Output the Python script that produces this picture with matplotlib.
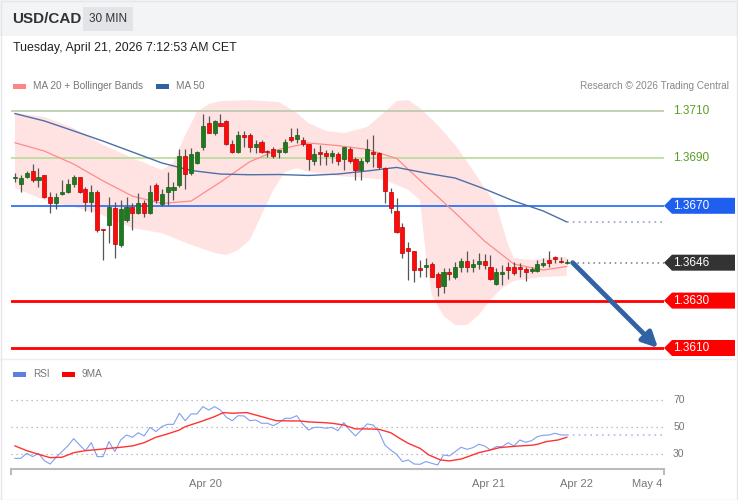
import numpy as np
import matplotlib.pyplot as plt
from matplotlib.patches import Rectangle, Polygon
from matplotlib.transforms import blended_transform_factory

plt.rcParams['font.family'] = ['Liberation Sans', 'DejaVu Sans']

# USD/CAD 30 min candles
opens = [1.36819, 1.36791, 1.36820, 1.36848, 1.36809, 1.36830, 1.36738, 1.36710, 1.36748, 1.36759,
         1.36791, 1.36820, 1.36770, 1.36717, 1.36759, 1.36600, 1.36619, 1.36689, 1.36535, 1.36640,
         1.36696, 1.36668, 1.36710, 1.36668, 1.36788, 1.36708, 1.36759, 1.36767, 1.36788, 1.36910,
         1.36840, 1.36879, 1.36949, 1.37048, 1.37008, 1.37048, 1.37059, 1.36959, 1.36928, 1.36999,
         1.36999, 1.36949, 1.36968, 1.36929, 1.36938, 1.36929, 1.36928, 1.36989, 1.36980, 1.36978,
         1.36961, 1.36889, 1.36928, 1.36922, 1.36910, 1.36917, 1.36896, 1.36938, 1.36896, 1.36851,
         1.36889, 1.36928, 1.36922, 1.36858, 1.36759, 1.36679, 1.36609, 1.36521, 1.36510, 1.36433,
         1.36440, 1.36454, 1.36411, 1.36362, 1.36422, 1.36401, 1.36440, 1.36468, 1.36440, 1.36454,
         1.36468, 1.36440, 1.36370, 1.36412, 1.36440, 1.36440, 1.36440, 1.36432, 1.36426, 1.36426,
         1.36450, 1.36471, 1.36483, 1.36465, 1.36459]
highs = [1.36838, 1.36830, 1.36848, 1.36876, 1.36859, 1.36832, 1.36759, 1.36754, 1.36809, 1.36813,
         1.36830, 1.36823, 1.36778, 1.36788, 1.36767, 1.36601, 1.36738, 1.36717, 1.36724, 1.36738,
         1.36710, 1.36755, 1.36724, 1.36788, 1.36796, 1.36770, 1.36844, 1.36802, 1.36938, 1.36938,
         1.36944, 1.36930, 1.37087, 1.37079, 1.37062, 1.37087, 1.37060, 1.36978, 1.37017, 1.37017,
         1.37008, 1.36978, 1.36978, 1.36935, 1.36947, 1.36935, 1.36981, 1.37027, 1.37027, 1.36992,
         1.36962, 1.36943, 1.36957, 1.36935, 1.36935, 1.36928, 1.36949, 1.36949, 1.36907, 1.36900,
         1.36981, 1.36999, 1.36928, 1.36865, 1.36774, 1.36732, 1.36629, 1.36548, 1.36511, 1.36471,
         1.36478, 1.36464, 1.36422, 1.36436, 1.36436, 1.36464, 1.36478, 1.36510, 1.36474, 1.36502,
         1.36497, 1.36492, 1.36436, 1.36450, 1.36464, 1.36464, 1.36460, 1.36440, 1.36440, 1.36471,
         1.36478, 1.36510, 1.36488, 1.36483, 1.36474]
lows = [1.36800, 1.36759, 1.36817, 1.36802, 1.36781, 1.36733, 1.36671, 1.36686, 1.36746, 1.36755,
        1.36778, 1.36753, 1.36679, 1.36675, 1.36591, 1.36471, 1.36542, 1.36478, 1.36527, 1.36633,
        1.36598, 1.36665, 1.36654, 1.36665, 1.36712, 1.36699, 1.36703, 1.36724, 1.36778, 1.36770,
        1.36830, 1.36876, 1.36935, 1.37006, 1.36999, 1.37037, 1.36957, 1.36922, 1.36924, 1.36949,
        1.36928, 1.36922, 1.36923, 1.36905, 1.36900, 1.36902, 1.36922, 1.36970, 1.36966, 1.36952,
        1.36851, 1.36872, 1.36872, 1.36872, 1.36879, 1.36872, 1.36851, 1.36879, 1.36809, 1.36809,
        1.36882, 1.36865, 1.36854, 1.36710, 1.36668, 1.36586, 1.36478, 1.36387, 1.36380, 1.36401,
        1.36398, 1.36398, 1.36319, 1.36331, 1.36387, 1.36390, 1.36422, 1.36422, 1.36422, 1.36432,
        1.36432, 1.36387, 1.36366, 1.36366, 1.36390, 1.36408, 1.36401, 1.36384, 1.36415, 1.36422,
        1.36440, 1.36440, 1.36457, 1.36457, 1.36456]
closes = [1.36821, 1.36819, 1.36840, 1.36809, 1.36821, 1.36738, 1.36710, 1.36738, 1.36759, 1.36791,
          1.36820, 1.36759, 1.36717, 1.36759, 1.36598, 1.36598, 1.36696, 1.36539, 1.36685, 1.36696,
          1.36668, 1.36710, 1.36668, 1.36759, 1.36724, 1.36750, 1.36778, 1.36781, 1.36910, 1.36834,
          1.36919, 1.36928, 1.37037, 1.37008, 1.37059, 1.37038, 1.36959, 1.36928, 1.36999, 1.36989,
          1.36949, 1.36959, 1.36928, 1.36927, 1.36910, 1.36930, 1.36970, 1.36978, 1.36999, 1.36961,
          1.36896, 1.36919, 1.36919, 1.36910, 1.36922, 1.36889, 1.36947, 1.36889, 1.36851, 1.36889,
          1.36938, 1.36919, 1.36865, 1.36762, 1.36689, 1.36591, 1.36502, 1.36509, 1.36429, 1.36431,
          1.36450, 1.36401, 1.36359, 1.36422, 1.36411, 1.36440, 1.36468, 1.36440, 1.36454, 1.36468,
          1.36450, 1.36390, 1.36422, 1.36422, 1.36429, 1.36415, 1.36432, 1.36422, 1.36432, 1.36454,
          1.36460, 1.36460, 1.36474, 1.36463, 1.36460]

# moving averages, sampled every few candles
ind_idx = [0, 5, 10, 15, 20, 25, 30, 35, 40, 45, 50, 55, 60, 65, 70, 75, 80, 85, 90, 94]
ma20 = [1.36966, 1.36931, 1.36876, 1.36805, 1.36741, 1.36710, 1.36720, 1.36800, 1.36886, 1.36938,
        1.36965, 1.36954, 1.36938, 1.36900, 1.36784, 1.36670, 1.36551, 1.36454, 1.36429, 1.36444]
ma50 = [1.37089, 1.37058, 1.37016, 1.36973, 1.36927, 1.36881, 1.36849, 1.36834, 1.36831, 1.36832,
        1.36828, 1.36834, 1.36847, 1.36862, 1.36838, 1.36817, 1.36771, 1.36720, 1.36678, 1.36632]

# bollinger bands
bb_up_idx = [0, 5, 10, 15, 20, 25, 27, 29, 31, 33, 35, 40, 45, 48, 50, 53, 56, 58, 60, 63, 65, 67,
             69, 72, 75, 78, 80, 82, 84, 85, 88, 91, 94]
bb_upper = [1.37092, 1.37075, 1.37028, 1.36957, 1.36902, 1.36851, 1.36881, 1.36999, 1.37096, 1.37130,
            1.37142, 1.37146, 1.37138, 1.37092, 1.37049, 1.37016, 1.37007, 1.37020, 1.37032, 1.37096,
            1.37142, 1.37146, 1.37113, 1.37041, 1.36957, 1.36851, 1.36775, 1.36703, 1.36535, 1.36480,
            1.36471, 1.36480, 1.36484]
bb_lo_idx = [0, 5, 10, 14, 20, 25, 30, 34, 36, 38, 40, 42, 44, 46, 48, 50, 55, 60, 63, 65, 67, 69,
             70, 71, 73, 75, 77, 79, 81, 83, 85, 90, 94]
bb_lower = [1.36775, 1.36724, 1.36695, 1.36670, 1.36606, 1.36585, 1.36535, 1.36501, 1.36492, 1.36513,
            1.36556, 1.36661, 1.36767, 1.36843, 1.36859, 1.36843, 1.36826, 1.36817, 1.36809, 1.36788,
            1.36767, 1.36724, 1.36492, 1.36324, 1.36235, 1.36197, 1.36197, 1.36239, 1.36303, 1.36353,
            1.36383, 1.36400, 1.36404]

rsi = [27.0, 27.0, 30.7, 28.3, 30.7, 25.3, 22.8, 27.8, 32.0, 36.2,
       41.6, 36.9, 32.7, 38.6, 28.3, 28.3, 39.4, 32.0, 40.6, 44.3,
       42.6, 46.0, 43.6, 50.0, 46.8, 50.5, 52.2, 52.2, 60.4, 54.9,
       59.9, 59.9, 65.3, 62.8, 65.3, 62.8, 57.4, 54.9, 58.6, 58.4,
       54.9, 55.4, 53.0, 53.0, 51.2, 53.5, 56.7, 56.7, 58.6, 52.5,
       48.0, 50.0, 50.0, 49.3, 50.0, 47.5, 53.5, 48.0, 43.6, 48.0,
       52.5, 51.7, 46.8, 36.9, 33.2, 30.0, 24.6, 25.8, 22.8, 22.6,
       24.6, 23.3, 22.1, 29.5, 28.8, 32.0, 35.2, 33.7, 34.9, 37.4,
       36.2, 33.2, 35.7, 35.7, 38.6, 36.2, 40.6, 38.9, 40.1, 43.1,
       44.1, 44.3, 45.6, 44.3, 44.3]
ma9_idx = [0, 2, 4, 6, 8, 10, 12, 14.5, 16, 18, 20, 22, 24, 26, 28, 29, 31.5, 34, 35.5, 37, 39.5, 41,
           43, 44.5, 47, 48.5, 50, 52.5, 54, 56, 58, 60, 62, 64, 65.5, 67, 69, 70.5, 72.5, 74, 76,
           77.5, 79, 81, 82.5, 84.5, 86, 88, 89, 90.5, 92.5, 94]
ma9 = [36.2, 32.7, 30.0, 27.5, 27.8, 31.2, 32.7, 33.7, 34.4, 35.2, 36.2, 38.6, 42.6, 45.1, 48.0,
       50.5, 54.0, 57.9, 60.9, 60.4, 60.9, 59.1, 56.7, 54.9, 54.7, 54.7, 54.0, 53.5, 53.0, 51.7,
       48.8, 48.8, 48.5, 46.0, 41.9, 38.1, 34.4, 29.5, 25.8, 25.1, 26.5, 28.8, 31.2, 33.2, 34.9,
       35.7, 36.2, 36.7, 37.4, 39.4, 40.6, 42.6]

levels_green = [1.3710, 1.3690]
level_blue = 1.3670
levels_red = [1.3630, 1.3610]
target = 1.3610

tick_pos = [32.4, 80.6, 95.7, 107.7]
tick_labels = ['Apr 20', 'Apr 21', 'Apr 22', 'May 4']

W, H = 738, 500
fig = plt.figure(figsize=(W / 100, H / 100), dpi=100)
fig.patch.set_facecolor('white')


def fbox(left, top, right, bottom):
    return [left / W, 1 - bottom / H, (right - left) / W, (bottom - top) / H]


# header
fig.add_artist(Rectangle((0, 1 - 36 / H), 1, 36 / H, transform=fig.transFigure,
                         facecolor='#f3f4f6', edgecolor='none'))
fig.add_artist(Rectangle((83 / W, 1 - 31 / H), 50 / W, 24 / H, transform=fig.transFigure,
                         facecolor='#e2e4e7', edgecolor='none'))
fig.text(12 / W, 1 - 19 / H, 'USD/CAD', fontsize=11, fontweight='bold', color='#333333', va='center')
fig.text(108 / W, 1 - 19 / H, '30 MIN', fontsize=8.5, color='#333333', va='center', ha='center')
fig.text(13 / W, 1 - 48 / H, 'Tuesday, April 21, 2026 7:12:53 AM CET', fontsize=8.9,
         color='#222222', va='center')
fig.add_artist(Rectangle((0.5 / W, 0.5 / H), 1 - 1.5 / W, 1 - 1.5 / H, transform=fig.transFigure,
                         facecolor='none', edgecolor='#e4e6e9', lw=1))


def legend_item(x, y, color, label):
    fig.add_artist(Rectangle((x / W, 1 - (y + 2.5) / H), 13 / W, 5 / H, transform=fig.transFigure,
                             facecolor=color, edgecolor='none'))
    fig.text((x + 20) / W, 1 - y / H, label, fontsize=7.2, color='#777777', va='center')


legend_item(13, 86, '#ff8585', 'MA 20 + Bollinger Bands')
legend_item(156, 86, '#30609e', 'MA 50')
fig.text(729 / W, 1 - 86 / H, 'Research \u00a9 2026 Trading Central', fontsize=7.2,
         color='#888888', va='center', ha='right')
legend_item(13, 374, '#5b80e0', 'RSI')
legend_item(62, 374, '#ff0000', '9MA')

# main price panel
ax = fig.add_axes(fbox(11, 95, 664, 358))
ax.set_xlim((11 - 15) / 5.87, (664 - 15) / 5.87)
ax.set_ylim(1.3710 - 247 / 23700, 1.3710 + 16 / 23700)
ax.axis('off')

ax.fill(bb_up_idx + bb_lo_idx[::-1], bb_upper + bb_lower[::-1], color='#ffe3e3', lw=0, zorder=1)
ax.plot(ind_idx, ma20, color='#ff8a8a', lw=0.9, zorder=2)
ax.plot(ind_idx, ma50, color='#4c6fa8', lw=1.0, zorder=2)
ax.plot([ind_idx[-1], ax.get_xlim()[1]], [ma50[-1], ma50[-1]], color='#8fa3c8', lw=1.2,
        ls=(0, (1, 2.5)), zorder=2)

ax.axhline(levels_green[0], color='#b8c9aa', lw=1.2, zorder=1.5)
ax.axhline(levels_green[1], color='#b9da98', lw=1.2, zorder=1.5)
ax.axhline(level_blue, color='#3f7cf5', lw=1.4, zorder=1.5)
for lv in levels_red:
    ax.axhline(lv, color='#ff0000', lw=2, zorder=1.5)

idx = np.arange(len(closes))
o = np.array(opens)
c = np.array(closes)
up = c >= o
ax.vlines(idx, lows, highs, color='#555555', lw=0.9, zorder=3)
body_lo = np.minimum(o, c)
body_h = np.maximum(np.abs(c - o), 0.000045)
ax.bar(idx[up], body_h[up], bottom=body_lo[up], width=0.7, color='#1f7a1f',
       edgecolor='#175c17', lw=0.5, zorder=4)
ax.bar(idx[~up], body_h[~up], bottom=body_lo[~up], width=0.7, color='#ff0a0a',
       edgecolor='#c00000', lw=0.5, zorder=4)

ax.plot([idx[-1] + 0.9, ax.get_xlim()[1]], [closes[-1], closes[-1]], color='#777777', lw=1.1,
        ls=(0, (1, 2.5)), zorder=2)

ax.annotate('', xy=((658 - 15) / 5.87, target), xytext=(idx[-1] + 1, closes[-1]),
            arrowprops=dict(arrowstyle='-|>,head_length=0.9,head_width=0.45', color='#3162a4',
                            lw=3.5, shrinkA=0, shrinkB=0), zorder=6)

# right side price tags
trans = blended_transform_factory(fig.transFigure, ax.transData)


def price_tag(price, face, label):
    h = 8 / 23700
    x0, x1, x2 = 664 / W, 672 / W, 735 / W
    fig.add_artist(Polygon([(x0, price), (x1, price + h), (x2, price + h), (x2, price - h),
                            (x1, price - h)], closed=True, transform=trans, facecolor=face,
                           edgecolor='none'))
    fig.text(673 / W, price, label, transform=trans, color='white', fontsize=8.5, va='center')


for lv in levels_green:
    fig.text(673 / W, lv, f'{lv:.4f}', transform=trans, color='#5a9e22', fontsize=8.5, va='center')
price_tag(level_blue, '#1f5ff0', f'{level_blue:.4f}')
price_tag(closes[-1], '#333333', f'{closes[-1]:.4f}')
for lv in levels_red:
    price_tag(lv, '#ff0000', f'{lv:.4f}')

fig.add_artist(plt.Line2D([0, 1], [1 - 359 / H, 1 - 359 / H], transform=fig.transFigure,
                          color='#eeeeee', lw=1))

# RSI panel
ax2 = fig.add_axes(fbox(11, 365, 664, 469))
ax2.set_xlim(ax.get_xlim())
ax2.set_ylim(50 - 41.7 / 1.35, 50 + 62.3 / 1.35)
for s in ['top', 'right', 'left']:
    ax2.spines[s].set_visible(False)
ax2.spines['bottom'].set_color('#bbbbbb')
ax2.spines['bottom'].set_linewidth(1.5)
for lv in [70, 50, 30]:
    ax2.axhline(lv, color='#aaaaaa', lw=0.9, ls=(0, (1, 3)))
    ax2.text(1.014, lv, str(lv), transform=ax2.get_yaxis_transform(), fontsize=7.5,
             color='#777777', va='center')
ax2.plot(idx, rsi, color='#7f9ff0', lw=0.8)
ax2.plot([idx[-1], ax2.get_xlim()[1]], [rsi[-1], rsi[-1]], color='#aabbf0', lw=1.2,
         ls=(0, (1, 2.5)))
ax2.plot(ma9_idx, ma9, color='#ff3333', lw=1.0)
ax2.set_yticks([])
ax2.set_xticks(tick_pos)
ax2.set_xticklabels(tick_labels, fontsize=8, color='#777777')
ax2.tick_params(axis='x', length=0, pad=7)
for xe in [0, 1]:
    ax2.plot([xe, xe], [0, -0.05], transform=ax2.transAxes, color='#bbbbbb', lw=1.5, clip_on=False)

fig.savefig('out.png', dpi=100)
